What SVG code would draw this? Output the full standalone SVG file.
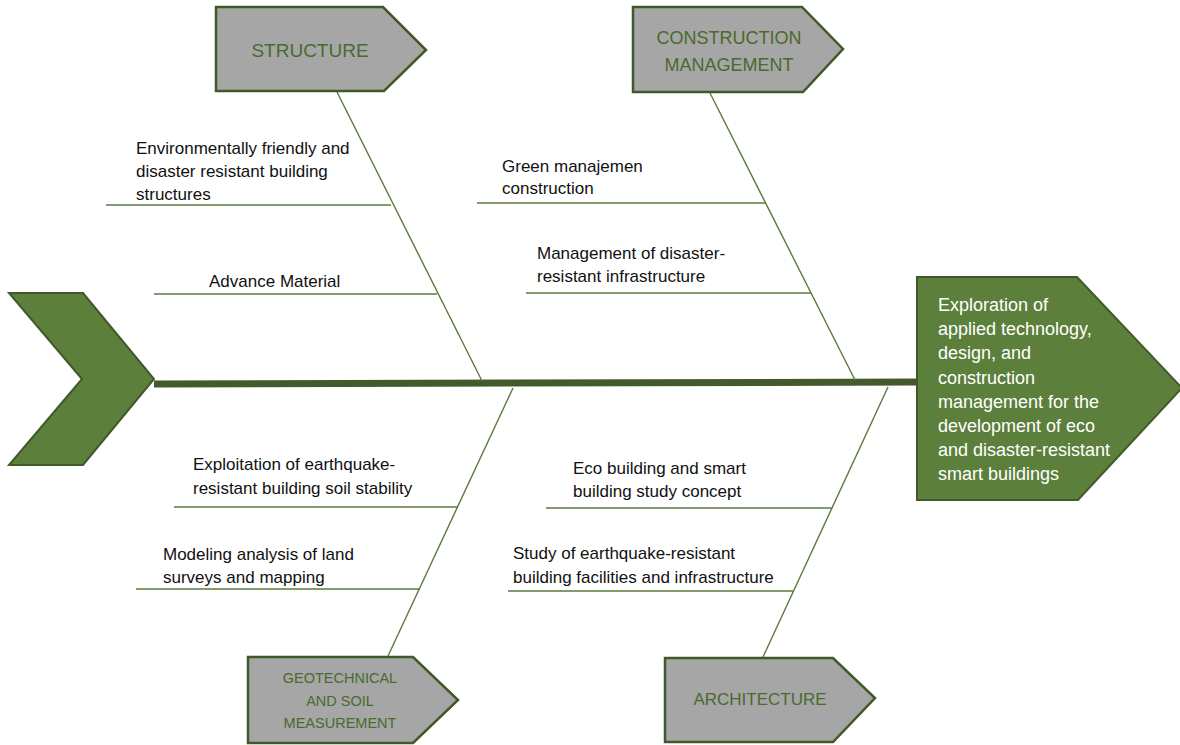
<svg xmlns="http://www.w3.org/2000/svg" width="1180" height="745" viewBox="0 0 1180 745">
  <style>
    .cat { fill: #a6a6a6; stroke: #41592a; stroke-width: 2.5; stroke-linejoin: miter; }
    .cat-text { fill: #4a6a2e; font-family: "Liberation Sans", Arial, sans-serif; text-anchor: middle; }
    .head { fill: #5c7f3c; stroke: #41592a; stroke-width: 2; }
    .head-text { fill: #ffffff; font-family: "Liberation Sans", Arial, sans-serif; font-size: 18px; }
    .bone { stroke: #5b7a3e; stroke-width: 1.4; fill: none; }
    .spine { stroke: #435a2b; stroke-width: 7; fill: none; }
    .label { fill: #111111; font-family: "Liberation Sans", Arial, sans-serif; font-size: 17px; }
  </style>
  <rect width="1180" height="745" fill="#ffffff"/>

  <!-- connectors: spine, main bones and sub-branches -->
  <g id="connectors">
    <line class="spine" x1="154" y1="384" x2="918" y2="382"/>
    <!-- STRUCTURE bone -->
    <line class="bone" x1="337" y1="92" x2="482" y2="381"/>
    <line class="bone" x1="106" y1="205" x2="391" y2="205"/>
    <line class="bone" x1="154" y1="294" x2="437" y2="294"/>
    <!-- CONSTRUCTION MANAGEMENT bone -->
    <line class="bone" x1="710" y1="93" x2="855" y2="380"/>
    <line class="bone" x1="477" y1="203" x2="765" y2="203"/>
    <line class="bone" x1="526" y1="293" x2="811" y2="293"/>
    <!-- GEOTECHNICAL bone -->
    <line class="bone" x1="513" y1="388" x2="388" y2="656"/>
    <line class="bone" x1="174" y1="507" x2="457" y2="507"/>
    <line class="bone" x1="136" y1="589" x2="420" y2="589"/>
    <!-- ARCHITECTURE bone -->
    <line class="bone" x1="888" y1="387" x2="763" y2="657"/>
    <line class="bone" x1="546" y1="508" x2="832" y2="508"/>
    <line class="bone" x1="508" y1="591" x2="794" y2="591"/>
  </g>

  <!-- tail chevron -->
  <g id="tail">
    <polygon class="head" points="9,293 83,293 154,379 83,465 9,465 82,379"/>
  </g>

  <!-- head: problem statement -->
  <g id="head">
    <polygon class="head" points="917,277 1077,277 1182,388 1078,500 917,500"/>
    <text class="head-text" x="938" y="311">Exploration of</text>
    <text class="head-text" x="938" y="335">applied technology,</text>
    <text class="head-text" x="938" y="359">design, and</text>
    <text class="head-text" x="938" y="384">construction</text>
    <text class="head-text" x="938" y="408">management for the</text>
    <text class="head-text" x="938" y="432">development of eco</text>
    <text class="head-text" x="938" y="456">and disaster-resistant</text>
    <text class="head-text" x="938" y="480">smart buildings</text>
  </g>

  <!-- category boxes -->
  <g id="structure">
    <polygon class="cat" points="216,7 383,7 426,50 384,91 216,91"/>
    <text class="cat-text" x="310" y="57" font-size="19">STRUCTURE</text>
  </g>
  <g id="construction-management">
    <polygon class="cat" points="633,7 802,7 843,49 803,92 633,92"/>
    <text class="cat-text" x="729" y="44" font-size="18">CONSTRUCTION</text>
    <text class="cat-text" x="729" y="71" font-size="18">MANAGEMENT</text>
  </g>
  <g id="geotechnical">
    <polygon class="cat" points="248,657 413,657 458,700 413,743 248,743"/>
    <text class="cat-text" x="340" y="683" font-size="14.5">GEOTECHNICAL</text>
    <text class="cat-text" x="340" y="706" font-size="14.5">AND SOIL</text>
    <text class="cat-text" x="340" y="728" font-size="14.5">MEASUREMENT</text>
  </g>
  <g id="architecture">
    <polygon class="cat" points="665,658 833,658 875,698 833,742 665,742"/>
    <text class="cat-text" x="760" y="705" font-size="17">ARCHITECTURE</text>
  </g>

  <!-- branch labels -->
  <g id="structure-causes">
    <text class="label" x="136" y="154">Environmentally friendly and</text>
    <text class="label" x="136" y="177">disaster resistant building</text>
    <text class="label" x="136" y="200">structures</text>
    <text class="label" x="209" y="287">Advance Material</text>
  </g>
  <g id="construction-causes">
    <text class="label" x="502" y="172">Green manajemen</text>
    <text class="label" x="502" y="194">construction</text>
    <text class="label" x="537" y="259">Management of disaster-</text>
    <text class="label" x="537" y="282">resistant infrastructure</text>
  </g>
  <g id="geotechnical-causes">
    <text class="label" x="193" y="470">Exploitation of earthquake-</text>
    <text class="label" x="193" y="494">resistant building soil stability</text>
    <text class="label" x="163" y="560">Modeling analysis of land</text>
    <text class="label" x="163" y="583">surveys and mapping</text>
  </g>
  <g id="architecture-causes">
    <text class="label" x="573" y="474">Eco building and smart</text>
    <text class="label" x="573" y="497">building study concept</text>
    <text class="label" x="513" y="559">Study of earthquake-resistant</text>
    <text class="label" x="513" y="583">building facilities and infrastructure</text>
  </g>
</svg>
